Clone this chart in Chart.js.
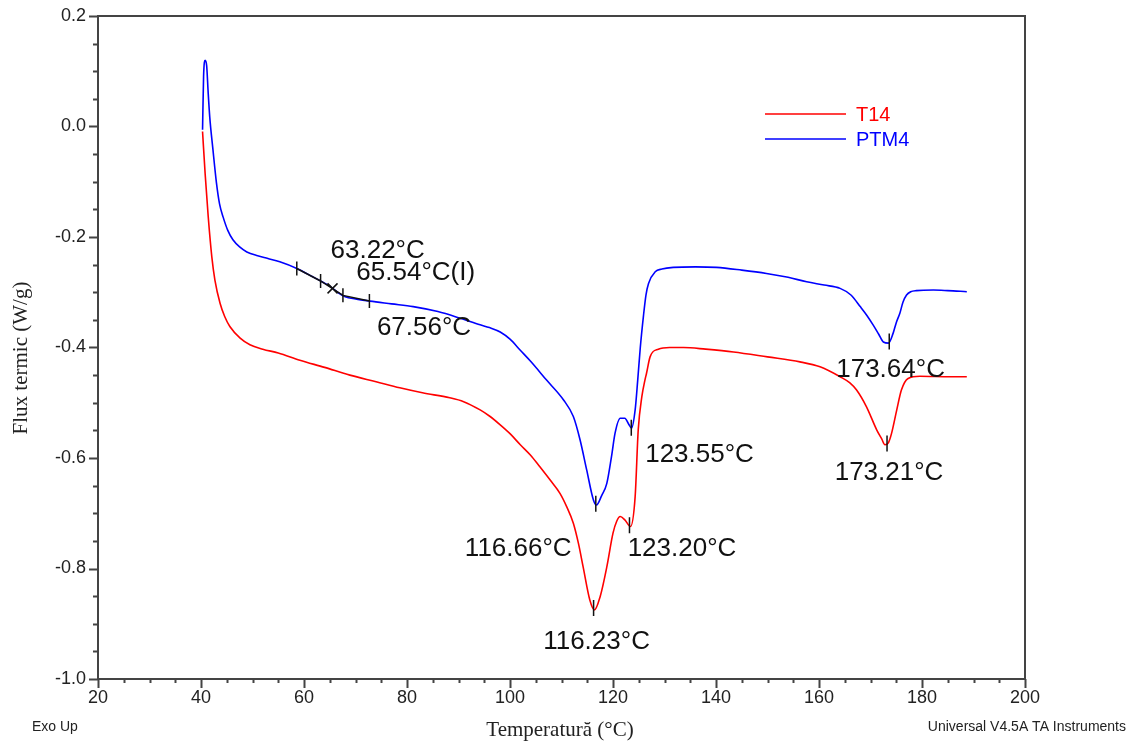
<!DOCTYPE html>
<html>
<head>
<meta charset="utf-8">
<script src="https://cdn.jsdelivr.net/npm/chart.js@4.4.0/dist/chart.umd.min.js"></script>
<style>
  html, body { margin: 0; padding: 0; background: #fff; }
  #wrap { position: relative; width: 1138px; height: 743px; }
</style>
</head>
<body>
<div id="wrap"><canvas id="c" width="1138" height="743"></canvas></div>
<script>
const seriesNames = ["T14", "PTM4"];
const seriesColors = ["#ff0000", "#0000ff"];

// T14 (red)
const t14Temp = [40.3, 40.8, 41.4, 42.1, 42.7, 43.7, 44.6, 45.6, 47.6, 49.5, 52, 55, 59.2, 64, 68.9, 74, 78.6, 83, 88.3, 91,
  94.2, 96, 98.1, 100, 102, 104, 105.8, 107.8, 109.7, 111, 112.3, 113.3, 114.2, 115.5, 116.4, 117.5, 118.8, 120.0, 120.7, 121.4,
  122.3, 123.4, 124.3, 124.9, 125.6, 126.2, 126.5, 127.2, 128.8, 131, 133.7, 138, 143.4, 150, 156.3, 160.2, 164.1, 166, 167.3, 169.2,
  171.2, 172.2, 172.8, 173.5, 174.1, 175.1, 176.0, 177.3, 179.6, 185.4, 188.7];
const t14Flux = [-0.009, -0.085, -0.163, -0.236, -0.278, -0.32, -0.344, -0.362, -0.383, -0.395, -0.403, -0.41, -0.423, -0.436, -0.45, -0.462, -0.473, -0.482, -0.491, -0.498,
  -0.513, -0.524, -0.54, -0.556, -0.576, -0.595, -0.616, -0.64, -0.664, -0.688, -0.718, -0.755, -0.797, -0.857, -0.875, -0.851, -0.797, -0.736, -0.715, -0.706,
  -0.712, -0.724, -0.67, -0.549, -0.489, -0.459, -0.447, -0.417, -0.403, -0.400, -0.400, -0.403, -0.408, -0.417, -0.426, -0.435, -0.453, -0.464, -0.477, -0.507,
  -0.549, -0.566, -0.576, -0.572, -0.555, -0.513, -0.477, -0.456, -0.452, -0.453, -0.453];

// PTM4 (blue)
const ptm4Temp = [40.3, 40.5, 40.8, 41.1, 41.4, 41.7, 42.3, 43.0, 43.6, 44.3, 45.2, 46.2, 47.5, 48.9, 51, 53, 55.3, 58.6, 61.7, 63.5,
  65.0, 66.5, 68, 70, 72.8, 77, 81.2, 86, 90.3, 94.2, 96, 98.1, 100, 102, 104, 107.1, 110.4, 112.3, 113.6, 114.9,
  116.2, 116.8, 117.8, 118.8, 119.7, 120.4, 121.4, 122.3, 123.0, 123.6, 124.3, 124.8, 125.3, 125.9, 126.4, 126.9, 128.2, 129.5, 131.7, 136,
  140.1, 145, 149.8, 154, 157.6, 161, 164.1, 166.2, 168.0, 169.3, 170.5, 171.6, 172.5, 173.5, 174.4, 175.0, 175.7, 176.3, 177.0, 177.8,
  178.9, 182.2, 185, 188.7];
const ptm4Flux = [-0.006, 0.09, 0.12, 0.11, 0.06, 0.017, -0.04, -0.102, -0.14, -0.164, -0.188, -0.205, -0.218, -0.227, -0.234, -0.239, -0.245, -0.257, -0.272, -0.281,
  -0.289, -0.300, -0.308, -0.312, -0.316, -0.321, -0.326, -0.335, -0.347, -0.359, -0.364, -0.372, -0.385, -0.405, -0.425, -0.459, -0.495, -0.525, -0.567, -0.622,
  -0.676, -0.685, -0.668, -0.646, -0.598, -0.555, -0.528, -0.528, -0.538, -0.546, -0.513, -0.459, -0.40, -0.344, -0.305, -0.284, -0.263, -0.258, -0.255, -0.254,
  -0.255, -0.26, -0.266, -0.273, -0.281, -0.287, -0.293, -0.305, -0.326, -0.342, -0.359, -0.376, -0.390, -0.392, -0.374, -0.355, -0.338, -0.318, -0.305, -0.299,
  -0.297, -0.296, -0.297, -0.299];

const xTicks = [20, 40, 60, 80, 100, 120, 140, 160, 180, 200];
const yTicks = [0.2, 0.0, -0.2, -0.4, -0.6, -0.8, -1.0];

const t14Peaks = [116.23, 123.20, 173.21];
const ptm4Peaks = [116.66, 123.55, 173.64];
const ptm4Tg = [63.22, 65.54, 67.56]; // onset, inflection (I), end

function toPoints(xs, ys) {
  return xs.map((t, i) => ({ x: t, y: ys[i] }));
}

// value of a curve at temperature t (for placing markers on the curve)
function curveAt(xs, ys, t) {
  for (let i = 0; i < xs.length - 1; i++) {
    if (t >= xs[i] && t <= xs[i + 1]) {
      const f = (t - xs[i]) / (xs[i + 1] - xs[i]);
      return ys[i] + f * (ys[i + 1] - ys[i]);
    }
  }
  return ys[ys.length - 1];
}

const fmt = (t) => t.toFixed(2) + "°C";

// text labels, anchored in data coordinates
const labels = [
  { text: fmt(ptm4Tg[0]), x: 74.3, y: -0.225 },
  { text: fmt(ptm4Tg[1]) + "(I)", x: 81.7, y: -0.265 },
  { text: fmt(ptm4Tg[2]), x: 83.3, y: -0.365 },
  { text: fmt(ptm4Peaks[0]), x: 101.6, y: -0.765 },
  { text: fmt(ptm4Peaks[1]), x: 136.8, y: -0.595 },
  { text: fmt(ptm4Peaks[2]), x: 173.9, y: -0.441 },
  { text: fmt(t14Peaks[0]), x: 116.8, y: -0.933 },
  { text: fmt(t14Peaks[1]), x: 133.4, y: -0.764 },
  { text: fmt(t14Peaks[2]), x: 173.6, y: -0.626 },
];

const overlay = {
  id: "overlay",
  afterDraw(chart) {
    const { ctx, chartArea: a, scales: { x, y } } = chart;
    ctx.save();

    // frame
    ctx.strokeStyle = "#444";
    ctx.lineWidth = 2;
    ctx.strokeRect(a.left, a.top, a.right - a.left, a.bottom - a.top);

    // axis ticks (major + minor)
    ctx.beginPath();
    for (let i = 0; i <= 24; i++) {
      const py = Math.round(y.getPixelForValue(-1 + i * 0.05)) + 0.5;
      const len = i % 4 === 0 ? 9 : 5;
      ctx.moveTo(a.left, py);
      ctx.lineTo(a.left - len, py);
    }
    for (let i = 0; i <= 36; i++) {
      const px = Math.round(x.getPixelForValue(20 + i * 5)) + 0.5;
      const len = i % 4 === 0 ? 9 : 4;
      ctx.moveTo(px, a.bottom);
      ctx.lineTo(px, a.bottom + len);
    }
    ctx.stroke();

    // peak markers
    ctx.strokeStyle = "#111";
    ctx.lineWidth = 1.5;
    ctx.beginPath();
    const mark = (xs, ys, t) => {
      const px = x.getPixelForValue(t);
      const py = y.getPixelForValue(curveAt(xs, ys, t));
      ctx.moveTo(px, py - 8);
      ctx.lineTo(px, py + 8);
    };
    t14Peaks.forEach((t) => mark(t14Temp, t14Flux, t));
    ptm4Peaks.forEach((t) => mark(ptm4Temp, ptm4Flux, t));

    // glass transition tangents on PTM4
    const tgPts = [58.6, ptm4Tg[0], ptm4Tg[2], 72.7].map((t) => ({
      px: x.getPixelForValue(t),
      py: y.getPixelForValue(curveAt(ptm4Temp, ptm4Flux, t)),
    }));
    ctx.moveTo(tgPts[0].px, tgPts[0].py);
    tgPts.forEach((p) => ctx.lineTo(p.px, p.py));
    tgPts.forEach((p) => {
      ctx.moveTo(p.px, p.py - 7);
      ctx.lineTo(p.px, p.py + 7);
    });
    const ip = {
      px: x.getPixelForValue(ptm4Tg[1]),
      py: y.getPixelForValue(curveAt(ptm4Temp, ptm4Flux, ptm4Tg[1])),
    };
    ctx.moveTo(ip.px - 5, ip.py - 5);
    ctx.lineTo(ip.px + 5, ip.py + 5);
    ctx.moveTo(ip.px - 5, ip.py + 5);
    ctx.lineTo(ip.px + 5, ip.py - 5);
    ctx.stroke();

    // annotation labels
    ctx.fillStyle = "#111";
    ctx.font = "26px 'Liberation Sans', Arial, sans-serif";
    ctx.textAlign = "center";
    ctx.textBaseline = "middle";
    labels.forEach((l) => {
      ctx.fillText(l.text, x.getPixelForValue(l.x), y.getPixelForValue(l.y));
    });

    // legend
    ctx.font = "20px 'Liberation Sans', Arial, sans-serif";
    ctx.textAlign = "left";
    seriesNames.forEach((name, i) => {
      const ly = 114 + i * 25;
      ctx.strokeStyle = seriesColors[i];
      ctx.lineWidth = 1.5;
      ctx.beginPath();
      ctx.moveTo(765, ly);
      ctx.lineTo(846, ly);
      ctx.stroke();
      ctx.fillStyle = seriesColors[i];
      ctx.fillText(name, 856, ly + 1);
    });

    // axis titles
    ctx.fillStyle = "#222";
    ctx.font = "21px 'Liberation Serif', 'Times New Roman', serif";
    ctx.textAlign = "center";
    ctx.fillText("Temperatură (°C)", 560, 730);
    ctx.save();
    ctx.translate(21, 358);
    ctx.rotate(-Math.PI / 2);
    ctx.fillText("Flux termic (W/g)", 0, 0);
    ctx.restore();

    // footer texts
    ctx.font = "14px 'Liberation Sans', Arial, sans-serif";
    ctx.textAlign = "left";
    ctx.fillText("Exo Up", 32, 727);
    ctx.textAlign = "right";
    ctx.fillText("Universal V4.5A TA Instruments", 1126, 727);

    ctx.restore();
  },
};

new Chart(document.getElementById("c"), {
  type: "scatter",
  data: {
    datasets: [
      {
        label: seriesNames[0],
        data: toPoints(t14Temp, t14Flux),
        showLine: true,
        borderColor: seriesColors[0],
        borderWidth: 1.6,
        pointRadius: 0,
        cubicInterpolationMode: "monotone",
      },
      {
        label: seriesNames[1],
        data: toPoints(ptm4Temp, ptm4Flux),
        showLine: true,
        borderColor: seriesColors[1],
        borderWidth: 1.6,
        pointRadius: 0,
        cubicInterpolationMode: "monotone",
      },
    ],
  },
  options: {
    responsive: false,
    animation: false,
    layout: { padding: { left: 0, top: 16, right: 113, bottom: 0 } },
    plugins: {
      legend: { display: false },
      tooltip: { enabled: false },
    },
    scales: {
      x: {
        type: "linear",
        min: 20,
        max: 200,
        afterBuildTicks: (s) => { s.ticks = xTicks.map((v) => ({ value: v })); },
        afterFit: (s) => { s.height = 64; s.paddingLeft = 0; s.paddingRight = 0; },
        grid: { display: false, drawTicks: false },
        border: { display: false },
        ticks: {
          padding: 8,
          color: "#222",
          font: { family: "'Liberation Sans', Arial, sans-serif", size: 18 },
          maxRotation: 0,
          autoSkip: false,
          callback: (v) => String(v),
        },
      },
      y: {
        type: "linear",
        min: -1.0,
        max: 0.2,
        afterBuildTicks: (s) => { s.ticks = yTicks.map((v) => ({ value: v })); },
        afterFit: (s) => { s.width = 98; s.paddingTop = 0; s.paddingBottom = 0; },
        grid: { display: false, drawTicks: false },
        border: { display: false },
        ticks: {
          padding: 12,
          color: "#222",
          font: { family: "'Liberation Sans', Arial, sans-serif", size: 18 },
          autoSkip: false,
          callback: (v) => v.toFixed(1),
        },
      },
    },
  },
  plugins: [overlay],
});
</script>
</body>
</html>
